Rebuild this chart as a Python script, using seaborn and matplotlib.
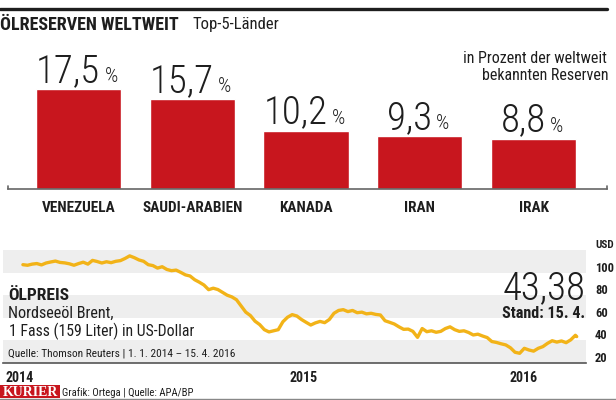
import pandas as pd
import seaborn as sns
from matplotlib import pyplot as plt
from matplotlib.lines import Line2D
from matplotlib.patches import Rectangle

# --- data -------------------------------------------------------------
countries = ["VENEZUELA", "SAUDI-ARABIEN", "KANADA", "IRAN", "IRAK"]
reserve_share = [17.5, 15.7, 10.2, 9.3, 8.8]
share_labels = ["17,5", "15,7", "10,2", "9,3", "8,8"]

# Brent, USD per barrel, weekly readings from 1.1.2014 on, last = 15.4.2016
price_2014 = [107.0, 106.5, 107.5, 108.0, 106.8, 108.5, 109.4, 110.2, 109.0, 108.6,
              107.8, 106.5, 108.0, 109.2, 107.5, 110.8, 109.8, 108.5, 109.6, 108.8,
              110.0, 110.6, 112.5, 114.8, 113.2, 111.2, 110.0, 107.0, 106.2, 104.0,
              105.2, 102.8, 101.7, 102.2, 100.2, 98.0, 97.0, 93.7, 91.5, 89.0,
              84.9, 86.2, 85.0, 82.5, 80.0, 78.5, 76.0, 70.5, 65.0, 62.0,
              57.0, 54.0, 49.5]
price_2015 = [47.5, 48.5, 49.5, 56.5, 60.5, 62.8, 61.6, 58.5, 56.0, 53.6,
              55.5, 56.8, 55.7, 58.5, 64.0, 66.5, 67.2, 65.5, 66.5, 64.5,
              65.0, 63.5, 64.0, 63.0, 62.5, 57.4, 56.0, 54.5, 52.0, 49.8,
              50.0, 48.0, 42.7, 50.5, 47.7, 48.5, 47.2, 48.0, 50.5, 52.0,
              49.5, 48.0, 48.5, 47.0, 44.8, 45.5, 43.9, 42.5, 39.0, 38.2,
              37.0, 36.0]
price_2016 = [33.5, 29.5, 28.6, 33.0, 31.5, 30.5, 33.0, 34.5, 37.4, 39.7,
              38.5, 39.5, 38.0, 40.5, 44.5, 43.38]
year_labels = ["2014", "2015", "2016"]
usd_ticks = [20, 40, 60, 80, 100]
last_price = "43,38"

RED = "#C8161E"
GOLD = "#F2B318"
BAND = "#EEEEEE"
INK = "#1E1E1E"

sns.set_style("white")
plt.rcParams["font.family"] = ["Roboto Condensed", "Roboto", "DejaVu Sans"]

W, H = 616, 400
fig = plt.figure(figsize=(W / 100, H / 100), dpi=100)


def fx(px):
    return px / W


def fy(py):
    return 1 - py / H


# --- top: oil reserves -------------------------------------------------
ax = fig.add_axes([fx(8), fy(189), fx(599), 149 / H])
df_bar = pd.DataFrame({"land": countries, "anteil": reserve_share})
sns.barplot(data=df_bar, x="land", y="anteil", color=RED, saturation=1,
            width=0.75, ax=ax)
ax.set_xlim(-0.62, 4.646)
ax.set_ylim(0, 149 / 5.714)
ax.set(xlabel="", ylabel="", yticks=[])
for s in ("top", "left", "right"):
    ax.spines[s].set_visible(False)
ax.spines["bottom"].set_color("#666666")
ax.spines["bottom"].set_linewidth(1.2)
for xe in (0, 1):
    ax.plot([xe, xe], [0, 0.02], transform=ax.transAxes, color="#666666",
            lw=1.2, clip_on=False)
ax.tick_params(axis="x", length=0, pad=9)
for lab in ax.get_xticklabels():
    lab.set_fontweight("bold")
    lab.set_fontsize(11)
    lab.set_color(INK)

for i, (v, txt) in enumerate(zip(reserve_share, share_labels)):
    t = ax.text(i - 0.09, v + 1.25, txt, ha="center", va="baseline",
                fontsize=28, weight="light", color=INK)
    ax.annotate("%", xy=(1, v + 1.25), xycoords=(t, "data"), xytext=(3, 0),
                textcoords="offset points", ha="left", va="baseline",
                fontsize=15, weight="light", color=INK)

fig.text(fx(0), fy(29.5), "ÖLRESERVEN WELTWEIT", fontsize=13, weight="bold",
         color=INK, va="baseline")
fig.text(fx(192), fy(29.5), "Top-5-Länder", fontsize=12, color=INK,
         va="baseline")
fig.text(fx(607), fy(63), "in Prozent der weltweit", fontsize=11.5, color=INK,
         ha="right", va="baseline")
fig.text(fx(609), fy(80.5), "bekannten Reserven", fontsize=11.5, color=INK,
         ha="right", va="baseline")
fig.add_artist(Line2D([0, fx(607)], [fy(8.5), fy(8.5)], color=INK, lw=2.4))

# --- bottom: Brent price -----------------------------------------------
ax2 = fig.add_axes([fx(3), fy(363), fx(583), 113 / H])
dates = list(pd.date_range("2014-01-01", periods=120, freq="7D")) + [pd.Timestamp("2016-04-15")]
df_line = pd.DataFrame({"datum": dates, "usd": price_2014 + price_2015 + price_2016})
for lo in (20, 60, 100):
    ax2.axhspan(lo, lo + 20, color=BAND, lw=0, zorder=0)
sns.lineplot(data=df_line, x="datum", y="usd", color=GOLD, lw=2.4, ax=ax2,
             zorder=3)
ax2.set_xlim(pd.Timestamp("2013-12-02"), pd.Timestamp("2016-04-29"))
ax2.set_ylim(20, 120)
ax2.set(xticks=[], yticks=[], xlabel="", ylabel="")
for s in ("top", "left", "right"):
    ax2.spines[s].set_visible(False)
ax2.spines["bottom"].set_color("#555555")
ax2.spines["bottom"].set_linewidth(1.2)

ytrans = ax2.get_yaxis_transform()
for v in usd_ticks:
    ax2.text(1.0155, v + 0.9, str(v), transform=ytrans, ha="left",
             va="baseline", fontsize=9, weight="bold", color=INK,
             clip_on=False)
ax2.text(1.0155, 121.8, "USD", transform=ytrans, ha="left", va="baseline",
         fontsize=8, weight="bold", color=INK, clip_on=False)
for xf, lab in zip([0.005, 0.4906, 0.868], year_labels):
    ax2.text(xf, -0.168, lab, transform=ax2.transAxes, ha="left",
             va="baseline", fontsize=10, weight="bold", color=INK)

fig.text(fx(8), fy(300), "ÖLPREIS", fontsize=12.6, weight="bold", color=INK,
         va="baseline")
fig.text(fx(8), fy(318), "Nordseeöl Brent,", fontsize=11.6, color=INK,
         va="baseline")
fig.text(fx(9), fy(336.5), "1 Fass (159 Liter) in US-Dollar", fontsize=11.3,
         color=INK, va="baseline")
fig.text(fx(8), fy(357), "Quelle: Thomson Reuters | 1. 1. 2014 – 15. 4. 2016",
         fontsize=8.2, color=INK, va="baseline")
fig.text(fx(585), fy(299), last_price, fontsize=28, weight="light", color=INK,
         ha="right", va="baseline")
fig.text(fx(585), fy(318), "Stand: 15. 4.", fontsize=11.6, weight="bold",
         color=INK, ha="right", va="baseline")

# --- footer ------------------------------------------------------------
fig.add_artist(Line2D([0, 1], [fy(399), fy(399)], color="#888888", lw=1))
fig.add_artist(Rectangle((0, fy(398)), fx(60), 13 / H, color=RED, lw=0))
fig.text(fx(30), fy(396.5), "KURIER", fontsize=10, weight="bold",
         family="Liberation Serif", color="white", ha="center", va="baseline")
fig.text(fx(62), fy(396.5), "Grafik: Ortega | Quelle: APA/BP", fontsize=7.7,
         color=INK, va="baseline")

plt.savefig("out.png", dpi=100)
